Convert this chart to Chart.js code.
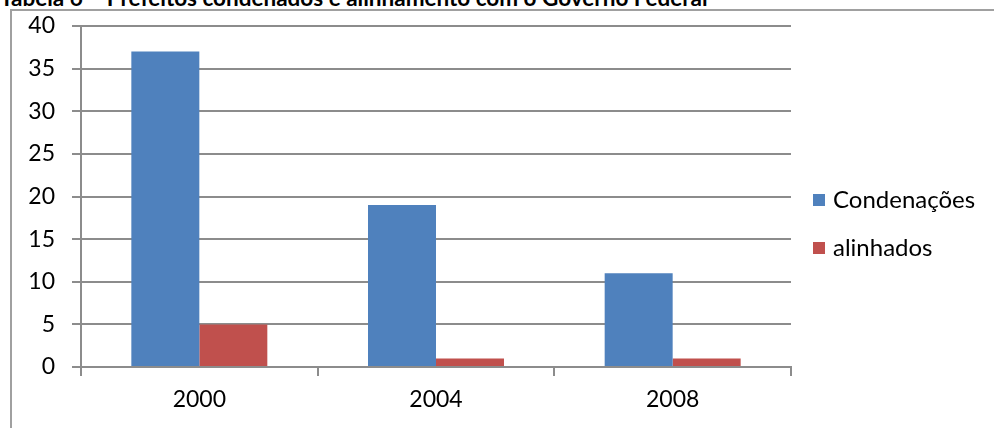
<!DOCTYPE html>
<html>
<head>
<meta charset="utf-8">
<script src="https://cdn.jsdelivr.net/npm/chart.js@4.4.1/dist/chart.umd.min.js"></script>
<style>
  html, body { margin:0; padding:0; background:#fff; width:994px; height:428px; overflow:hidden; }
  #title { position:absolute; left:0; top:-16px; font-family:Lato, sans-serif; font-weight:bold; font-size:22.5px; line-height:normal; color:#000; white-space:nowrap; }
  #frame { position:absolute; left:10px; top:9px; width:1000px; height:440px; border:2px solid #a0a0a0; box-sizing:border-box; }
  #wrap { position:absolute; left:0; top:0; width:994px; height:428px; }
</style>
</head>
<body>
<div id="title">Tabela 6 – Prefeitos condenados e alinhamento com o Governo Federal</div>
<div id="frame"></div>
<div id="wrap"><canvas id="c" width="994" height="428"></canvas></div>
<script>
const categories = ["2000", "2004", "2008"];
const condenacoes = [37, 19, 11];
const alinhados = [5, 1, 1];
const yTicks = [0, 5, 10, 15, 20, 25, 30, 35, 40];

const gridColor = '#8c8c8c';
const FONT = 'Lato, "Open Sans", sans-serif';

const legendPlugin = {
  id: 'sideLegend',
  afterDraw(chart) {
    const ctx = chart.ctx;
    const ys = [200, 248];
    ctx.save();
    ctx.font = '24px ' + FONT;
    ctx.textBaseline = 'middle';
    ctx.textAlign = 'left';
    chart.data.datasets.forEach((ds, i) => {
      const cy = ys[i];
      ctx.fillStyle = ds.backgroundColor;
      ctx.fillRect(813, cy - 6, 12, 12);
      ctx.fillStyle = '#000';
      ctx.fillText(ds.label, 833, cy);
    });
    ctx.restore();
  }
};

new Chart(document.getElementById('c'), {
  type: 'bar',
  data: {
    labels: categories,
    datasets: [
      { label: 'Condenações', data: condenacoes, backgroundColor: '#4F81BD' },
      { label: 'alinhados', data: alinhados, backgroundColor: '#C0504D' }
    ]
  },
  options: {
    responsive: false,
    animation: false,
    devicePixelRatio: 1,
    layout: { padding: { left: 0, right: 203, top: 0, bottom: 0 } },
    datasets: { bar: { categoryPercentage: 0.5746, barPercentage: 1.0 } },
    plugins: { legend: { display: false }, tooltip: { enabled: false }, title: { display: false } },
    scales: {
      x: {
        grid: { display: true, offset: true, drawOnChartArea: false, drawTicks: true, tickLength: 9, color: gridColor, lineWidth: 2 },
        border: { display: true, color: gridColor, width: 2 },
        ticks: { color: '#000', font: { family: FONT, size: 23 }, padding: 10, maxRotation: 0 },
        afterFit(s) { s.height = 61; }
      },
      y: {
        min: 0, max: 40,
        afterBuildTicks(s) { s.ticks = yTicks.map(v => ({ value: v })); },
        grid: { display: true, drawTicks: true, tickLength: 9, color: gridColor, lineWidth: 2 },
        border: { display: true, color: gridColor, width: 2 },
        ticks: { color: '#000', font: { family: FONT, size: 23 }, padding: 17 },
        afterFit(s) { s.width = 81; s.paddingTop = 26; }
      }
    }
  },
  plugins: [legendPlugin]
});
</script>
</body>
</html>
